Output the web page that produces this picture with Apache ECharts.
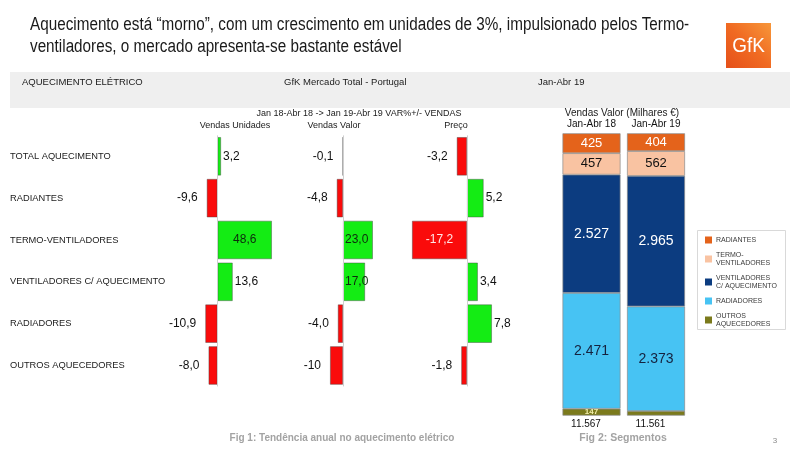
<!DOCTYPE html>
<html>
<head>
<meta charset="utf-8">
<script src="https://cdn.jsdelivr.net/npm/echarts@6/dist/echarts.min.js"></script>
<style>
html,body{margin:0;padding:0;background:#fff;}
#c{width:800px;height:450px;}
</style>
</head>
<body>
<div id="c"></div>
<script>
// ---- data ----
const categories = ['TOTAL AQUECIMENTO','RADIANTES','TERMO-VENTILADORES','VENTILADORES C/ AQUECIMENTO','RADIADORES','OUTROS AQUECEDORES'];
const vendasUnidades = [3.2, -9.6, 48.6, 13.6, -10.9, -8.0];
const vendasValor = [-0.1, -4.8, 23.0, 17.0, -4.0, -10];
const preco = [-3.2, 5.2, -17.2, 3.4, 7.8, -1.8];
const valorDecimals = [1, 1, 1, 1, 1, 0];

const periods = ['Jan-Abr 18', 'Jan-Abr 19'];
const segRadiantes = [425, 404];
const segTermo = [457, 562];
const segVentiladores = [2527, 2965];
const segRadiadores = [2471, 2373];
const segOutros = [147, 105];
const totals = [11567, 11561];

// ---- helpers ----
const FONT = 'Liberation Sans, Arial, sans-serif';
const GREEN = '#14ec14', RED = '#fa0b0b';
const dec = (v, d) => v.toFixed(d).replace('.', ',');
const thou = n => String(n).replace(/\B(?=(\d{3})+(?!\d))/g, '.');

const GT = 135.4, GH = 251;
const grids = [
  {left: 200.7, width: 72.8, min: -15, max: 50},
  {left: 323.5, width: 52, min: -15, max: 25},
  {left: 403, width: 96, min: -20, max: 10}
];

function buildItems(vals, insideIdx, insidePos, insideColor, decs) {
  return vals.map((v, i) => {
    const inside = insideIdx.indexOf(i) >= 0;
    const d = decs ? decs[i] : 1;
    return {
      value: v,
      itemStyle: {color: v >= 0 ? GREEN : RED},
      label: {
        formatter: dec(v, d),
        position: inside ? insidePos : (v >= 0 ? 'right' : 'left'),
        distance: inside ? 2 : (v >= 0 ? 2 : 9),
        color: inside ? insideColor : '#111'
      }
    };
  });
}

const diverging = [
  buildItems(vendasUnidades, [2], 'inside', '#0d2a0d', null),
  buildItems(vendasValor, [2, 3], 'insideLeft', '#0d2a0d', valorDecimals),
  buildItems(preco, [2], 'inside', '#ffe8e8', null)
];

// stacked shares
const yearTotals = periods.map((p, i) => segRadiantes[i] + segTermo[i] + segVentiladores[i] + segRadiadores[i] + segOutros[i]);
const stackDefs = [
  {name: 'OUTROS\nAQUECEDORES', vals: segOutros, color: '#7b7a1c', lc: '#f2eeaa', fs: 8, fw: 'bold'},
  {name: 'RADIADORES', vals: segRadiadores, color: '#47c3f3', lc: '#15223f', fs: 14, fw: 'normal'},
  {name: 'VENTILADORES\nC/ AQUECIMENTO', vals: segVentiladores, color: '#0c3c80', lc: '#ffffff', fs: 14, fw: 'normal'},
  {name: 'TERMO-\nVENTILADORES', vals: segTermo, color: '#f9c3a2', lc: '#111111', fs: 13, fw: 'normal'},
  {name: 'RADIANTES', vals: segRadiantes, color: '#e4631b', lc: '#ffffff', fs: 13, fw: 'normal'}
];

const gridOpts = grids.map(g => ({left: g.left, width: g.width, top: GT, height: GH, outerBoundsMode: 'none', containLabel: false}));
gridOpts.push({left: 559.25, width: 129, top: 133.3, height: 282.3, outerBoundsMode: 'none', containLabel: false});

const xAxes = grids.map((g, i) => ({gridIndex: i, type: 'value', min: g.min, max: g.max, show: false}));
xAxes.push({
  gridIndex: 3, type: 'category', data: periods, position: 'bottom',
  axisLine: {show: false}, axisTick: {show: false},
  axisLabel: {formatter: (v, i) => thou(totals[i]), margin: 4, fontSize: 10, color: '#111', fontFamily: FONT, padding: [0, 11, 0, 0]}
});
xAxes.push({
  gridIndex: 3, type: 'category', data: periods, position: 'top',
  axisLine: {show: false}, axisTick: {show: false},
  axisLabel: {margin: 4, fontSize: 10, color: '#111', fontFamily: FONT}
});

const yAxes = grids.map((g, i) => ({
  gridIndex: i, type: 'category', data: categories, inverse: true,
  axisLine: {show: false, onZero: false}, axisTick: {show: false}, splitLine: {show: false},
  axisLabel: i === 0 ? {show: true, align: 'left', margin: g.left - 10, fontSize: 9.3, color: '#1a1a1a', fontFamily: FONT} : {show: false}
}));
yAxes.push({gridIndex: 3, type: 'value', min: 0, max: 100, show: false});

const series = diverging.map((items, i) => ({
  type: 'bar', xAxisIndex: i, yAxisIndex: i, data: items,
  barCategoryGap: '8%',
  itemStyle: {borderColor: 'rgba(70,70,70,0.55)', borderWidth: 0.8},
  label: {show: true, fontSize: 12, fontFamily: FONT},
  markLine: {
    silent: true, symbol: ['none', 'none'], label: {show: false},
    lineStyle: {color: '#cfcfcf', width: 1, type: 'solid'},
    data: [{xAxis: 0}]
  }
}));

stackDefs.forEach(s => {
  series.push({
    type: 'bar', name: s.name, stack: 'seg', xAxisIndex: 3, yAxisIndex: 3,
    barWidth: 58,
    data: s.vals.map((v, i) => ({value: v / yearTotals[i] * 100, raw: v})),
    itemStyle: {color: s.color, borderColor: '#8a8a8a', borderWidth: 0.7},
    label: {
      show: true, position: 'inside', color: s.lc, fontSize: s.fs, fontWeight: s.fw, fontFamily: FONT,
      formatter: p => (p.value >= 2 ? thou(p.data.raw) : '')
    }
  });
});

const textG = (x, y, text, style) => ({type: 'text', left: x, top: y, style: Object.assign({text: text, fill: '#1a1a1a', font: '9px ' + FONT}, style)});
const TITLE_FONT = '18px "Liberation Sans", Arial, sans-serif';

const option = {
  animation: false,
  backgroundColor: '#ffffff',
  grid: gridOpts,
  xAxis: xAxes,
  yAxis: yAxes,
  series: series,
  legend: {
    data: ['RADIANTES', 'TERMO-\nVENTILADORES', 'VENTILADORES\nC/ AQUECIMENTO', 'RADIADORES', 'OUTROS\nAQUECEDORES'],
    orient: 'vertical', left: 700, top: 231, itemWidth: 7, itemHeight: 7, itemGap: 7,
    selectedMode: false, icon: 'rect',
    itemStyle: {borderWidth: 0},
    textStyle: {fontSize: 7, color: '#3a3a3a', lineHeight: 8, fontFamily: FONT, padding: [0, 0, 0, -1]}
  },
  graphic: [
    {type: 'rect', left: 10, top: 72, shape: {width: 780, height: 36}, style: {fill: '#efefef'}, silent: true},
    {type: 'text', x: 30, y: 16, scaleX: 0.848, style: {text: 'Aquecimento está “morno”, com um crescimento em unidades de 3%, impulsionado pelos Termo-', fill: '#1a1a1a', font: TITLE_FONT}},
    {type: 'text', x: 30, y: 38, scaleX: 0.848, style: {text: 'ventiladores, o mercado apresenta-se bastante estável', fill: '#1a1a1a', font: TITLE_FONT}},
    {type: 'rect', left: 726, top: 23, shape: {width: 45, height: 45},
      style: {fill: new echarts.graphic.LinearGradient(1, 0, 0, 1, [{offset: 0, color: '#f7973a'}, {offset: 0.5, color: '#f06a22'}, {offset: 1, color: '#e5501a'}])}},
    {type: 'text', x: 748.5, y: 46, scaleX: 0.9, style: {text: 'GfK', fill: '#ffffff', font: '21px ' + FONT, align: 'center', verticalAlign: 'middle'}},
    textG(22, 77, 'AQUECIMENTO ELÉTRICO', {font: '9.5px ' + FONT}),
    textG(284, 77, 'GfK Mercado Total - Portugal', {font: '9.5px ' + FONT}),
    textG(538, 77, 'Jan-Abr 19', {font: '9.5px ' + FONT}),
    {type: 'text', x: 359, y: 114, style: {text: 'Jan 18-Abr 18 -> Jan 19-Abr 19 VAR%+/- VENDAS', fill: '#1a1a1a', font: '9px ' + FONT, align: 'center', verticalAlign: 'middle'}},
    {type: 'text', x: 235, y: 126, style: {text: 'Vendas Unidades', fill: '#1a1a1a', font: '9px ' + FONT, align: 'center', verticalAlign: 'middle'}},
    {type: 'text', x: 334, y: 126, style: {text: 'Vendas Valor', fill: '#1a1a1a', font: '9px ' + FONT, align: 'center', verticalAlign: 'middle'}},
    {type: 'text', x: 456, y: 126, style: {text: 'Preço', fill: '#1a1a1a', font: '9px ' + FONT, align: 'center', verticalAlign: 'middle'}},
    {type: 'text', x: 622, y: 113, style: {text: 'Vendas Valor (Milhares €)', fill: '#1a1a1a', font: '10px ' + FONT, align: 'center', verticalAlign: 'middle'}},
    {type: 'rect', left: 695, top: 228, shape: {width: 88, height: 99}, style: {fill: 'none', stroke: '#d9d9d9', lineWidth: 1}, silent: true},
    {type: 'text', x: 342, y: 438, style: {text: 'Fig 1: Tendência anual no aquecimento elétrico', fill: '#a3a3a3', font: 'bold 10px ' + FONT, align: 'center', verticalAlign: 'middle'}},
    {type: 'text', x: 623, y: 438, style: {text: 'Fig 2: Segmentos', fill: '#a3a3a3', font: 'bold 10.5px ' + FONT, align: 'center', verticalAlign: 'middle'}},
    {type: 'text', x: 775, y: 441, style: {text: '3', fill: '#8a8a8a', font: '8px ' + FONT, align: 'center', verticalAlign: 'middle'}}
  ]
};

const chart = echarts.init(document.getElementById('c'), null, {renderer: 'canvas'});
chart.setOption(option);
</script>
</body>
</html>
